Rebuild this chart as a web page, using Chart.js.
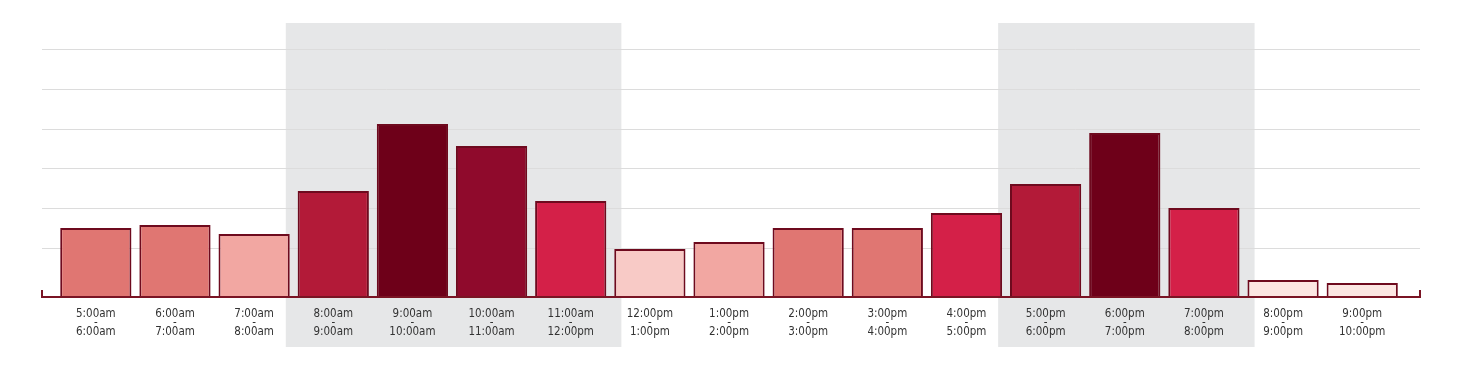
<!DOCTYPE html>
<html>
<head>
<meta charset="utf-8">
<script src="https://cdn.jsdelivr.net/npm/chart.js@4/dist/chart.umd.min.js"></script>
<style>
  html, body { margin: 0; padding: 0; background: #fff; }
  #wrap { width: 1463px; height: 377px; position: relative; }
</style>
</head>
<body>
<div id="wrap"><canvas id="myChart"></canvas></div>
<script>
const startTimes = ["5:00am", "6:00am", "7:00am", "8:00am", "9:00am", "10:00am", "11:00am", "12:00pm",
  "1:00pm", "2:00pm", "3:00pm", "4:00pm", "5:00pm", "6:00pm", "7:00pm", "8:00pm", "9:00pm"];
const endTimes = ["6:00am", "7:00am", "8:00am", "9:00am", "10:00am", "11:00am", "12:00pm", "1:00pm",
  "2:00pm", "3:00pm", "4:00pm", "5:00pm", "6:00pm", "7:00pm", "8:00pm", "9:00pm", "10:00pm"];
const volumes = [69, 72, 63, 106, 173, 151, 96, 48, 55, 69, 69, 84, 113, 164, 89, 17, 14];
const gridValues = [49, 89, 129, 168, 208, 248];
// peak windows, as first/last category index
const peakWindows = [[3, 6], [12, 14]];

const barColors = ["#e07672", "#e07672", "#f2a7a2", "#b31a38", "#6e0019", "#8f0a2c", "#d42048", "#f8cac6",
  "#f2a7a2", "#e07672", "#e07672", "#d42048", "#b31a38", "#6e0019", "#d42048", "#fce6e2", "#fce6e2"];
const axisColor = "#7a1424";

const peakShade = {
  id: "peakShade",
  beforeDraw(chart) {
    const { ctx, chartArea, scales } = chart;
    ctx.save();
    ctx.fillStyle = "#e6e7e8";
    peakWindows.forEach(([a, b]) => {
      const x1 = scales.x.getPixelForValue(a - 0.6);
      const x2 = scales.x.getPixelForValue(b + 0.64);
      ctx.fillRect(x1, chartArea.top - 26, x2 - x1, chartArea.bottom - chartArea.top + 76);
    });
    ctx.restore();
  }
};

const baseLine = {
  id: "baseLine",
  afterDatasetsDraw(chart) {
    const { ctx, chartArea } = chart;
    const y = chartArea.bottom;
    ctx.save();
    ctx.strokeStyle = axisColor;
    ctx.lineWidth = 2;
    ctx.beginPath();
    ctx.moveTo(chartArea.left, y - 7);
    ctx.lineTo(chartArea.left, y);
    ctx.lineTo(chartArea.right, y);
    ctx.lineTo(chartArea.right, y - 7);
    ctx.stroke();
    ctx.restore();
  }
};

const ctx = document.getElementById("myChart").getContext("2d");
new Chart(ctx, {
  type: "bar",
  data: {
    datasets: [{
      data: volumes.map((v, i) => ({ x: i, y: v })),
      backgroundColor: barColors,
      borderColor: "#6e0a1e",
      borderWidth: 2,
      borderSkipped: "bottom",
      barPercentage: 0.9,
      categoryPercentage: 1
    }]
  },
  plugins: [peakShade, baseLine],
  options: {
    responsive: true,
    maintainAspectRatio: false,
    animation: false,
    layout: { padding: { left: 42, right: 43, top: 49, bottom: 35 } },
    plugins: { legend: { display: false }, tooltip: { enabled: false } },
    scales: {
      x: {
        type: "linear",
        offset: false,
        min: -0.68,
        max: 16.73,
        grid: { display: false },
        border: { display: false },
        afterBuildTicks: axis => { axis.ticks = startTimes.map((t, i) => ({ value: i })); },
        ticks: {
          autoSkip: false,
          maxRotation: 0,
          padding: 5,
          color: "#333",
          font: { family: "'DejaVu Sans Condensed', 'Roboto', sans-serif", size: 11.5, lineHeight: "9px" },
          callback: v => [startTimes[v], "-", endTimes[v]]
        }
      },
      y: {
        min: 0,
        max: 248,
        afterBuildTicks: axis => { axis.ticks = gridValues.map(v => ({ value: v })); },
        grid: { color: "#dcdcdc", lineWidth: 1, drawTicks: false },
        border: { display: false },
        ticks: { display: false }
      }
    }
  }
});
</script>
</body>
</html>
